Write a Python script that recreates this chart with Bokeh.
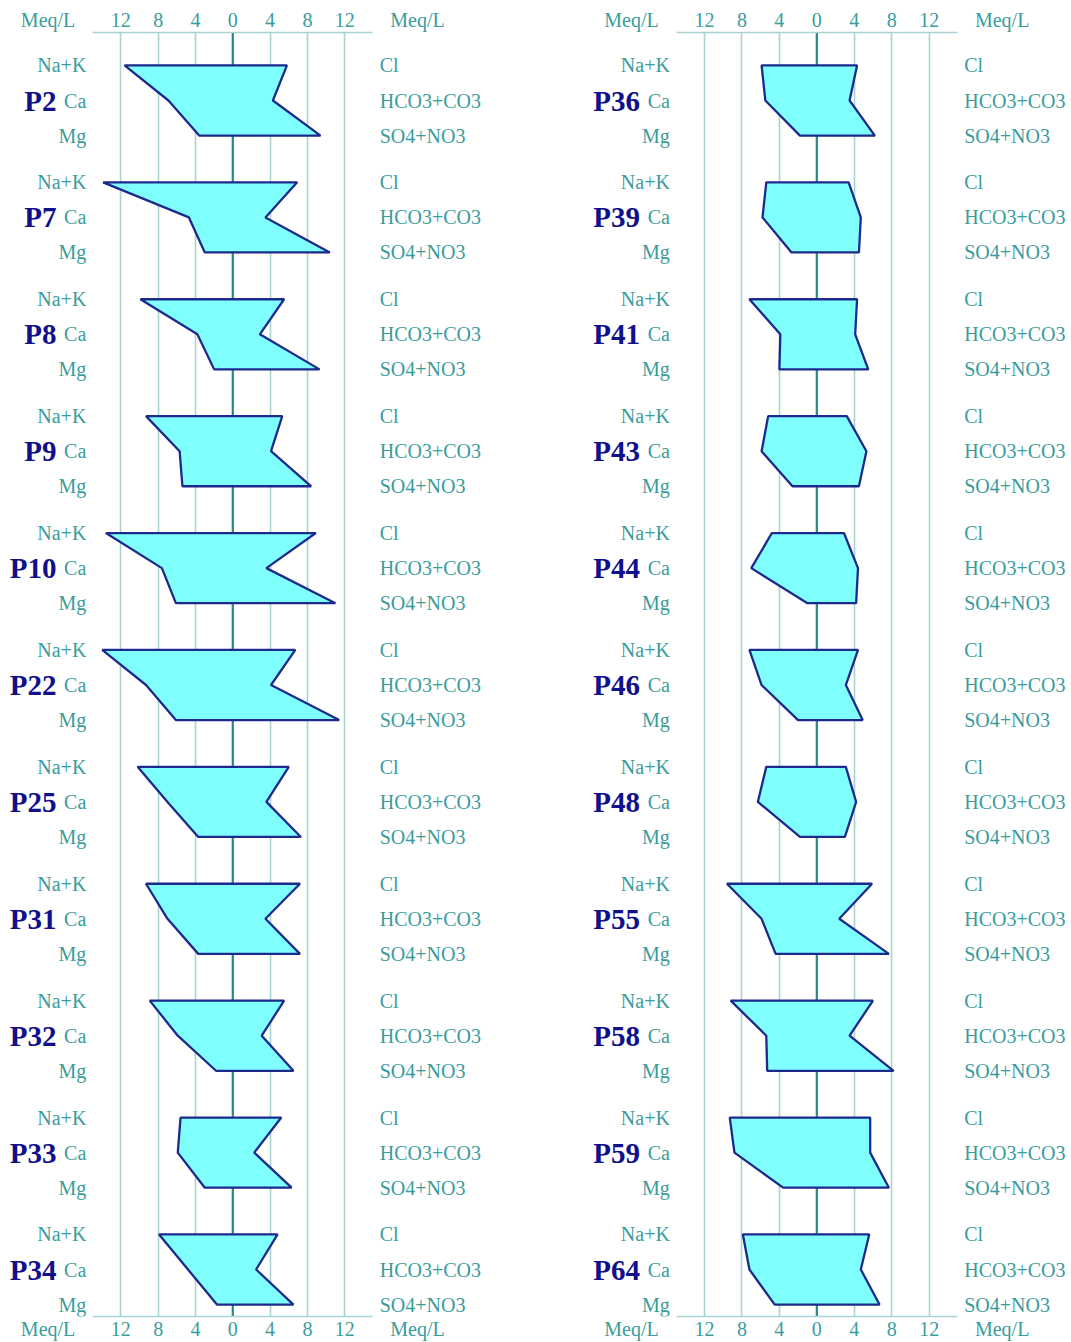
from bokeh.plotting import figure
from bokeh.layouts import row
from bokeh.models import (Range1d, LinearAxis, FixedTicker, Span, Grid,
                          CustomJSTickFormatter)
from bokeh.core.properties import value
from bokeh.embed import file_html
from bokeh.resources import INLINE

# ---------------- data (meq/L) ----------------
left_stations = ["P2", "P7", "P8", "P9", "P10", "P22", "P25", "P31", "P32", "P33", "P34"]
nak_L  = [11.6, 13.9, 9.9, 9.3, 13.6, 14.0, 10.2, 9.3, 8.9, 5.6, 7.9]
ca_L   = [6.9, 4.7, 3.8, 5.7, 7.6, 9.3, 7.0, 7.0, 5.9, 5.9, 4.8]
mg_L   = [3.6, 3.0, 2.0, 5.4, 6.1, 6.1, 3.7, 3.7, 1.8, 3.0, 1.7]
cl_L   = [5.8, 6.9, 5.5, 5.3, 8.9, 6.7, 6.0, 7.2, 5.5, 5.2, 4.8]
hco3_L = [4.3, 3.5, 2.9, 4.1, 3.6, 4.1, 3.6, 3.5, 3.1, 2.3, 2.5]
so4_L  = [9.4, 10.4, 9.3, 8.4, 11.0, 11.4, 7.3, 7.2, 6.5, 6.3, 6.5]

right_stations = ["P36", "P39", "P41", "P43", "P44", "P46", "P48", "P55", "P58", "P59", "P64"]
nak_R  = [5.9, 5.4, 7.2, 5.2, 4.8, 7.2, 5.4, 9.6, 9.2, 9.3, 7.9]
ca_R   = [5.5, 5.8, 3.9, 5.9, 7.0, 5.9, 6.3, 5.9, 5.4, 8.8, 7.2]
mg_R   = [1.8, 2.7, 4.0, 2.6, 1.0, 2.0, 1.8, 4.4, 5.3, 3.6, 4.5]
cl_R   = [4.3, 3.4, 4.3, 3.2, 2.9, 4.4, 3.1, 5.9, 6.0, 5.7, 5.6]
hco3_R = [3.5, 4.7, 4.1, 5.3, 4.4, 3.1, 4.2, 2.4, 3.5, 5.7, 4.7]
so4_R  = [6.2, 4.5, 5.5, 4.5, 4.2, 4.9, 3.0, 7.7, 8.2, 7.7, 6.7]

cations = ["Na+K", "Ca", "Mg"]
anions = ["Cl", "HCO3+CO3", "SO4+NO3"]
ticks = [-12, -8, -4, 0, 4, 8, 12]
unit_label = "Meq/L"
unit_pos = 19.8

# ---------------- style ----------------
FONT = "Liberation Serif"
TEAL = "#3a9c9c"
NAVY = "#10108c"
GRID = "#a9d3d3"
CENTER = "#2a8787"
FILL = "#80ffff"
EDGE = "#1c2a8c"
ROW = 0.3


def make_panel(stations, nak, ca, mg, cl, hco3, so4, width, xr):
    p = figure(width=width, height=1342, x_range=Range1d(*xr),
               y_range=Range1d(10.402, -0.5817), output_backend="svg",
               toolbar_location=None, x_axis_location=None, y_axis_location=None,
               min_border_left=0, min_border_right=0, min_border_top=32,
               min_border_bottom=26)
    p.outline_line_color = None
    p.background_fill_color = "white"
    p.border_fill_color = "white"
    p.grid.visible = False

    p.add_layout(Grid(dimension=0, ticker=FixedTicker(ticks=[t for t in ticks if t != 0]),
                      grid_line_color=GRID, grid_line_width=1.6))
    p.add_layout(Span(location=0, dimension="height", line_color=CENTER,
                      line_width=2.2, level="underlay"))

    for loc, standoff in (("above", 2), ("below", 1)):
        # axis line only, limited to -15..15
        line_ax = LinearAxis(ticker=FixedTicker(ticks=[]), bounds=(-15, 15))
        line_ax.axis_line_color = GRID
        line_ax.axis_line_width = 1.6
        line_ax.major_tick_line_color = None
        line_ax.minor_tick_line_color = None
        line_ax.major_tick_in = 0
        line_ax.major_tick_out = 0
        line_ax.major_label_standoff = 0
        p.add_layout(line_ax, loc)
        # tick labels (absolute values) plus unit labels at both sides
        lab_ax = LinearAxis(
            ticker=FixedTicker(ticks=[-unit_pos] + ticks + [unit_pos]),
            formatter=CustomJSTickFormatter(
                args=dict(lim=15, unit=unit_label),
                code="return Math.abs(tick) > lim ? unit : String(Math.abs(tick));"))
        lab_ax.axis_line_color = None
        lab_ax.major_tick_line_color = None
        lab_ax.minor_tick_line_color = None
        lab_ax.major_tick_in = 0
        lab_ax.major_tick_out = 0
        lab_ax.major_label_standoff = standoff
        lab_ax.major_label_text_font = FONT
        lab_ax.major_label_text_font_size = "20px"
        lab_ax.major_label_text_color = TEAL
        p.add_layout(lab_ax, loc)

    n = len(stations)
    xs, ys = [], []
    for i in range(n):
        xs.append([-nak[i], -ca[i], -mg[i], so4[i], hco3[i], cl[i]])
        ys.append([i - ROW, i, i + ROW, i + ROW, i, i - ROW])
    p.patches(xs, ys, fill_color=FILL, line_color=EDGE, line_width=2.3)

    ion_y = [i + d for i in range(n) for d in (-ROW, 0, ROW)]
    p.text(x=[-15.7] * (3 * n), y=ion_y, text=cations * n, text_align="right",
           text_baseline="middle", text_font=value(FONT), text_font_size="20px",
           text_color=TEAL)
    p.text(x=[15.75] * (3 * n), y=ion_y, text=anions * n, text_align="left",
           text_baseline="middle", text_font=value(FONT), text_font_size="20px",
           text_color=TEAL)
    p.text(x=[-18.9] * n, y=list(range(n)), text=stations, text_align="right",
           text_baseline="middle", text_font=value(FONT), text_font_size="29px",
           text_font_style="bold", text_color=NAVY)
    return p


p1 = make_panel(left_stations, nak_L, ca_L, mg_L, cl_L, hco3_L, so4_L, 584, (-24.90, 37.70))
p2 = make_panel(right_stations, nak_R, ca_R, mg_R, cl_R, hco3_R, so4_R, 487, (-24.82, 27.21))

layout = row(p1, p2)
open("out.html", "w").write(file_html(layout, INLINE))
